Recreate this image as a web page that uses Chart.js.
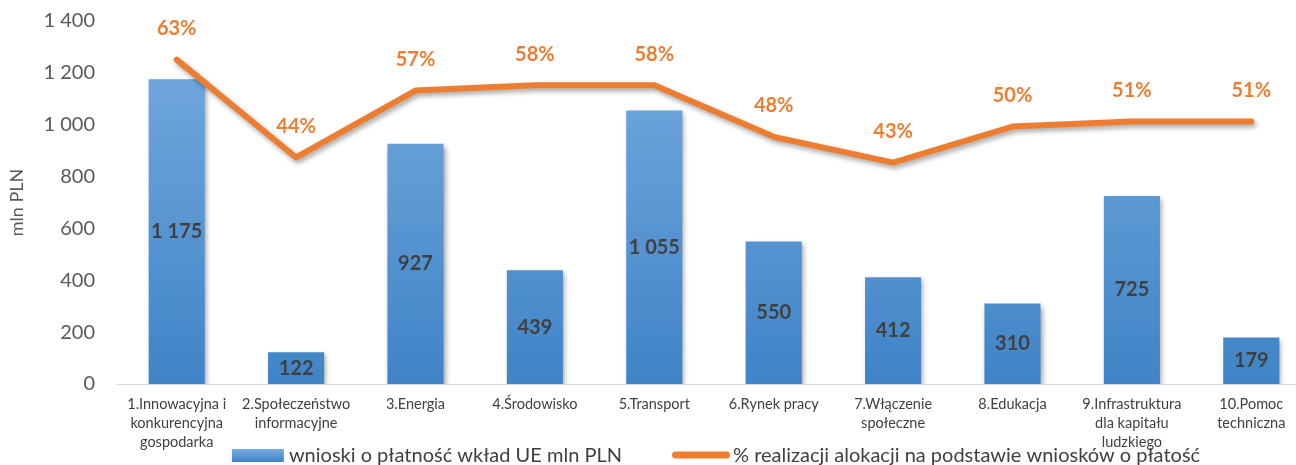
<!DOCTYPE html>
<html>
<head>
<meta charset="utf-8">
<script src="https://cdn.jsdelivr.net/npm/chart.js@4/dist/chart.umd.min.js"></script>
<style>
  html, body { margin: 0; padding: 0; background: #fff; overflow: hidden; }
</style>
</head>
<body>
<canvas id="chart" width="1312" height="465"></canvas>
<script>
// Operational programme axes
const categories = [
    ['1.Innowacyjna i', 'konkurencyjna', 'gospodarka'],
    ['2.Społeczeństwo', 'informacyjne'],
    '3.Energia',
    '4.Środowisko',
    '5.Transport',
    '6.Rynek pracy',
    ['7.Włączenie', 'społeczne'],
    '8.Edukacja',
    ['9.Infrastruktura', 'dla kapitału', 'ludzkiego'],
    ['10.Pomoc', 'techniczna']
];
// EU contribution in payment claims, mln PLN
const payments = [1175, 122, 927, 439, 1055, 550, 412, 310, 725, 179];
// allocation realised, %
const realization = [63, 44, 57, 58, 58, 48, 43, 50, 51, 51];

const barLabel = 'wnioski o płatność wkład UE mln PLN';
const lineLabel = '% realizacji alokacji na podstawie wniosków o płatość';

const FONT = 'Lato, "Noto Sans", sans-serif';
const ORANGE = '#ED7D31';

function spaced(v) {
    return String(v).replace(/\B(?=(\d{3})+(?!\d))/g, ' ');
}

function barGradient(ctx, top, bottom) {
    const g = ctx.createLinearGradient(0, top, 0, bottom);
    g.addColorStop(0, '#78ACE0');
    g.addColorStop(1, '#3F84C7');
    return g;
}

// soft drop shadow under bars and the line
const shadows = {
    id: 'shadows',
    beforeDatasetDraw(chart) {
        const ctx = chart.ctx;
        ctx.save();
        ctx.shadowColor = 'rgba(0,0,0,0.35)';
        ctx.shadowBlur = 5;
        ctx.shadowOffsetX = 2;
        ctx.shadowOffsetY = 3;
    },
    afterDatasetDraw(chart) {
        chart.ctx.restore();
    }
};

// numbers inside the bars and percentages above the line
const valueLabels = {
    id: 'valueLabels',
    afterDatasetsDraw(chart) {
        const ctx = chart.ctx;
        ctx.save();
        ctx.textAlign = 'center';
        ctx.textBaseline = 'middle';
        ctx.font = 'bold 20px ' + FONT;

        ctx.fillStyle = '#404040';
        chart.getDatasetMeta(0).data.forEach((bar, i) => {
            ctx.fillText(spaced(payments[i]), bar.x, (bar.y + bar.base) / 2);
        });

        ctx.fillStyle = ORANGE;
        chart.getDatasetMeta(1).data.forEach((pt, i) => {
            ctx.fillText(realization[i] + '%', pt.x, pt.y - 31);
        });
        ctx.restore();
    }
};

// single-row legend under the axis labels
const legendRow = {
    id: 'legendRow',
    afterDraw(chart, args, opts) {
        const ctx = chart.ctx;
        ctx.save();
        ctx.font = '20px ' + FONT;
        ctx.textBaseline = 'middle';
        const items = chart.data.datasets.map(ds => ({ label: ds.label, type: ds.type }));
        const swatch = it => it.type === 'line' ? 58 : 52;
        const gap = it => it.type === 'line' ? 3 : 5;
        let total = 0;
        items.forEach((it, i) => {
            total += swatch(it) + gap(it) + ctx.measureText(it.label).width + (i ? opts.spacing : 0);
        });
        let x = opts.centerX - total / 2;
        const y = opts.y;
        items.forEach((it, i) => {
            if (i) x += opts.spacing;
            const w = swatch(it);
            if (it.type === 'line') {
                ctx.strokeStyle = ORANGE;
                ctx.lineWidth = 7;
                ctx.lineCap = 'round';
                ctx.beginPath();
                ctx.moveTo(x + 3.5, y);
                ctx.lineTo(x + w - 3.5, y);
                ctx.stroke();
            } else {
                ctx.fillStyle = barGradient(ctx, y - 6, y + 7);
                ctx.fillRect(x, y - 6, w, 13);
            }
            x += w + gap(it);
            ctx.fillStyle = '#404040';
            ctx.fillText(it.label, x, y + 1);
            x += ctx.measureText(it.label).width;
        });
        ctx.restore();
    }
};

new Chart(document.getElementById('chart'), {
    data: {
        labels: categories,
        datasets: [
            {
                type: 'bar',
                label: barLabel,
                data: payments,
                yAxisID: 'y',
                order: 1,
                backgroundColor: ctx => {
                    const area = ctx.chart.chartArea;
                    if (!area) return '#5B9BD5';
                    return barGradient(ctx.chart.ctx, area.top, area.bottom);
                },
                borderWidth: 0,
                barPercentage: 0.47,
                categoryPercentage: 1
            },
            {
                type: 'line',
                label: lineLabel,
                data: realization,
                yAxisID: 'y1',
                order: 0,
                borderColor: ORANGE,
                backgroundColor: ORANGE,
                borderWidth: 6,
                borderCapStyle: 'round',
                borderJoinStyle: 'round',
                pointRadius: 0,
                tension: 0,
                fill: false
            }
        ]
    },
    options: {
        responsive: false,
        animation: false,
        layout: { padding: { top: 21, right: 1, left: 0, bottom: 0 } },
        plugins: {
            legend: { display: false },
            tooltip: { enabled: false },
            legendRow: { centerX: 716, y: 455, spacing: 50 }
        },
        scales: {
            x: {
                grid: { display: false, drawTicks: false },
                border: { display: true, color: '#D9D9D9', width: 1 },
                ticks: {
                    color: '#404040',
                    font: { family: FONT, size: 14.5, lineHeight: 1.31 },
                    padding: 11,
                    maxRotation: 0,
                    autoSkip: false
                },
                afterFit(scale) {
                    scale.height = 81;
                    scale.paddingLeft = 0;
                    scale.paddingRight = 0;
                }
            },
            y: {
                min: 0,
                max: 1400,
                grid: { display: false, drawTicks: false },
                border: { display: false },
                ticks: {
                    stepSize: 200,
                    color: '#595959',
                    font: { family: FONT, size: 20 },
                    padding: 22,
                    callback: v => spaced(v)
                },
                title: {
                    display: true,
                    text: 'mln PLN',
                    color: '#595959',
                    font: { family: FONT, size: 18 },
                    padding: { top: 6, bottom: 0 }
                },
                afterFit(scale) {
                    scale.width = 117;
                    scale.paddingTop = 0;
                    scale.paddingBottom = 0;
                }
            },
            y1: {
                display: false,
                min: 0,
                max: 70.5
            }
        }
    },
    plugins: [shadows, valueLabels, legendRow]
});
</script>
</body>
</html>
